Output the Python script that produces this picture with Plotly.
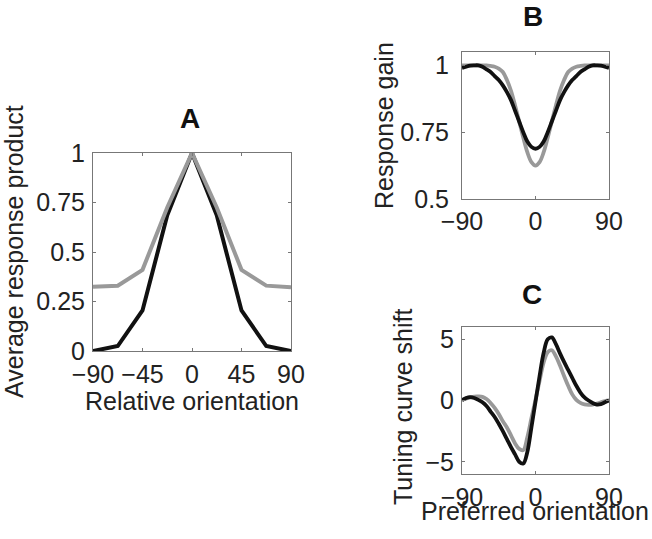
import plotly.graph_objects as go

# Panel A: average response product vs relative orientation
a_x = [-90, -67.5, -45, -22.5, 0, 22.5, 45, 67.5, 90]
a_gray = [0.325, 0.33, 0.41, 0.725, 1.0, 0.725, 0.41, 0.33, 0.322]
a_black = [0.0, 0.025, 0.205, 0.685, 1.0, 0.685, 0.205, 0.025, 0.0]

# Panels B and C share the preferred orientation grid
pref_x = [-90, -85, -80, -75, -70, -65, -60, -55, -50, -45, -40, -35, -30, -25, -20, -15, -10, -5, 0,
          5, 10, 15, 20, 25, 30, 35, 40, 45, 50, 55, 60, 65, 70, 75, 80, 85, 90]

b_gray = [1.0, 1.0, 1.0, 1.0, 1.0, 1.0, 1.0, 0.998, 0.995, 0.988, 0.975, 0.945, 0.905, 0.85, 0.79, 0.73, 0.675, 0.638, 0.625,
          0.638, 0.675, 0.73, 0.79, 0.85, 0.905, 0.945, 0.975, 0.988, 0.995, 0.998, 1.0, 1.0, 1.0, 1.0, 1.0, 1.0, 1.0]
b_black = [0.99, 0.995, 0.999, 1.0, 1.0, 0.995, 0.985, 0.975, 0.96, 0.945, 0.925, 0.9, 0.87, 0.83, 0.79, 0.75, 0.715, 0.695, 0.688,
           0.695, 0.715, 0.75, 0.79, 0.83, 0.87, 0.9, 0.925, 0.945, 0.96, 0.975, 0.985, 0.995, 1.0, 1.0, 0.999, 0.995, 0.99]

c_gray = [0.05, 0.15, 0.25, 0.32, 0.33, 0.3, 0.12, -0.2, -0.6, -1.1, -1.7, -2.2, -2.85, -3.5, -3.95, -4.05, -3.0, -1.45, 0.05,
          1.6, 3.1, 3.95, 4.1, 3.6, 2.85, 2.0, 1.2, 0.5, 0.05, -0.2, -0.32, -0.35, -0.33, -0.25, -0.15, -0.05, 0.0]
c_black = [0.02, 0.2, 0.27, 0.2, 0.05, -0.15, -0.45, -0.9, -1.35, -1.9, -2.5, -3.15, -3.8, -4.4, -5.0, -5.15, -4.2, -2.2, -0.1,
           2.0, 3.9, 5.0, 5.15, 4.6, 3.85, 3.15, 2.5, 1.85, 1.2, 0.65, 0.25, 0.0, -0.2, -0.33, -0.3, -0.15, 0.0]

GRAY = '#999999'
BLACK = '#111111'
FONT = 'Liberation Sans, Arial, sans-serif'
W, H = 652, 539

fig = go.Figure()

# A: black drawn under gray
fig.add_trace(go.Scatter(x=a_x, y=a_black, mode='lines', line=dict(color=BLACK, width=4), xaxis='x', yaxis='y'))
fig.add_trace(go.Scatter(x=a_x, y=a_gray, mode='lines', line=dict(color=GRAY, width=4), xaxis='x', yaxis='y'))

# B
fig.add_trace(go.Scatter(x=pref_x, y=b_gray, mode='lines', line=dict(color=GRAY, width=3.8, shape='spline'), xaxis='x2', yaxis='y2'))
fig.add_trace(go.Scatter(x=pref_x, y=b_black, mode='lines', line=dict(color=BLACK, width=3.8, shape='spline'), xaxis='x2', yaxis='y2'))

# C
fig.add_trace(go.Scatter(x=pref_x, y=c_gray, mode='lines', line=dict(color=GRAY, width=3.8, shape='spline'), xaxis='x3', yaxis='y3'))
fig.add_trace(go.Scatter(x=pref_x, y=c_black, mode='lines', line=dict(color=BLACK, width=3.8, shape='spline'), xaxis='x3', yaxis='y3'))


def px_x(p):
    return p / W


def px_y(p):
    return 1 - p / H


axis_style = dict(showline=True, linecolor='#777777', linewidth=1, mirror='ticks', ticks='inside',
                  ticklen=3, tickcolor='#777777', showgrid=False, zeroline=False, automargin=False,
                  tickfont=dict(family=FONT, size=25, color='#222222'))

fig.update_layout(
    width=W, height=H,
    margin=dict(l=0, r=0, t=0, b=0),
    paper_bgcolor='white', plot_bgcolor='white',
    showlegend=False,
    xaxis=dict(domain=[px_x(93), px_x(291)], range=[-90, 90], anchor='y',
               tickvals=[-90, -45, 0, 45, 90], ticktext=['−90', '−45', '0', '45', '90'],
               ticklabelstandoff=1, **axis_style),
    yaxis=dict(domain=[px_y(351), px_y(153)], range=[0, 1], anchor='x',
               tickvals=[0, 0.25, 0.5, 0.75, 1], ticktext=['0', '0.25', '0.5', '0.75', '1'],
               ticklabelstandoff=2, **axis_style),
    xaxis2=dict(domain=[px_x(462), px_x(609)], range=[-90, 90], anchor='y2',
                tickvals=[-90, 0, 90], ticktext=['−90', '0', '90'],
                ticklabelstandoff=0, **axis_style),
    yaxis2=dict(domain=[px_y(199), px_y(52)], range=[0.5, 1.05], anchor='x2',
                tickvals=[0.5, 0.75, 1], ticktext=['0.5', '0.75', '1'],
                ticklabelstandoff=7, **axis_style),
    xaxis3=dict(domain=[px_x(462), px_x(609)], range=[-90, 90], anchor='y3',
                tickvals=[-90, 0, 90], ticktext=['−90', '0', '90'],
                ticklabelstandoff=1, **axis_style),
    yaxis3=dict(domain=[px_y(474), px_y(327)], range=[-6, 6], anchor='x3',
                tickvals=[-5, 0, 5], ticktext=['−5', '0', '5'],
                ticklabelstandoff=2, **axis_style),
)

label_font = dict(family=FONT, size=25, color='#222222')
title_font = dict(family=FONT, size=28, color='#111111')

annotations = [
    # panel letters
    dict(text='<b>A</b>', x=px_x(190), y=px_y(119), font=title_font),
    dict(text='<b>B</b>', x=px_x(533), y=px_y(17), font=title_font),
    dict(text='<b>C</b>', x=px_x(532), y=px_y(294), font=title_font),
    # axis labels
    dict(text='Average response product', x=px_x(14), y=px_y(252), textangle=-90, font=label_font),
    dict(text='Relative orientation', x=px_x(192), y=px_y(401), font=label_font),
    dict(text='Response gain', x=px_x(384), y=px_y(126), textangle=-90, font=label_font),
    dict(text='Tuning curve shift', x=px_x(403), y=px_y(407), textangle=-90, font=label_font),
    dict(text='Preferred orientation', x=px_x(535), y=px_y(511), font=label_font),
]
for ann in annotations:
    ann.update(xref='paper', yref='paper', xanchor='center', yanchor='middle', showarrow=False)
fig.update_layout(annotations=annotations)

# drop the browser's default body margin so the figure sits at the page corner
fig.write_html("out.html", config={'displayModeBar': False},
               post_script="document.body.style.margin='0';")
